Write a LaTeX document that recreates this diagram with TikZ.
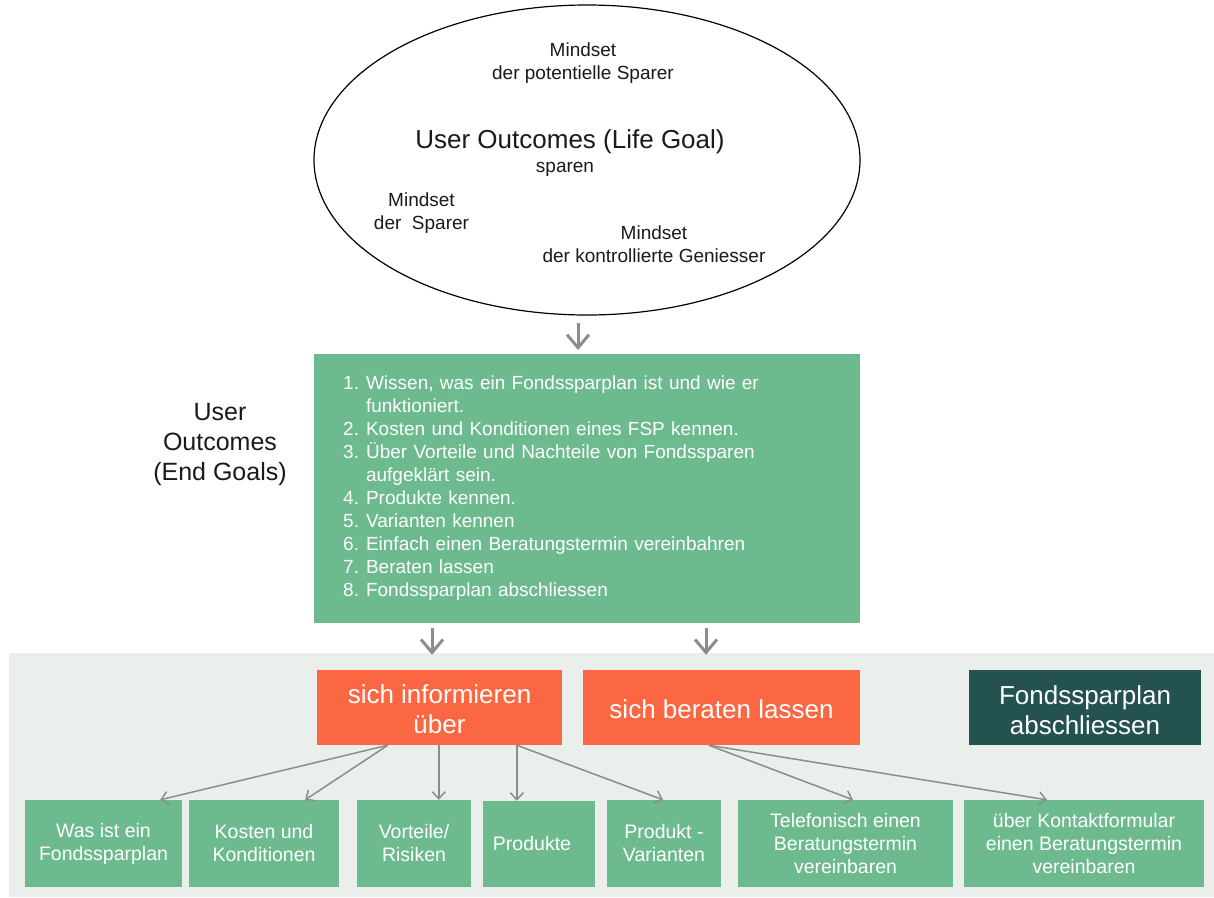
\documentclass[tikz,border=0pt]{standalone}
\usepackage{fontspec}
\setmainfont{Liberation Sans}
\usetikzlibrary{arrows.meta,calc,shapes.geometric}
\definecolor{leaf}{HTML}{6DBA8F}
\definecolor{coral}{HTML}{FB6742}
\definecolor{pine}{HTML}{245251}
\definecolor{mist}{HTML}{EBEFEC}
\definecolor{link}{HTML}{8C8C8C}
\definecolor{ink}{HTML}{1A1A1A}

\begin{document}
\begin{tikzpicture}[x=1pt,y=-1pt,
  tile/.style={fill=leaf, text=white, inner sep=0pt, align=center,
    minimum height=87pt, font=\fontsize{19.5}{23}\selectfont},
  action/.style={inner sep=0pt, text=white, align=center,
    minimum height=75pt, font=\fontsize{26}{30}\selectfont},
  note/.style={text=ink, inner sep=0pt, align=center, font=\fontsize{19}{23}\selectfont},
  flow/.style={draw=link, line width=3pt, -{Straight Barb[length=13pt,width=22pt]}},
  branch/.style={draw=link, line width=1.5pt, -{Straight Barb[length=7pt,width=13pt]}}]

% canvas
\useasboundingbox (0,0) rectangle (1214,897);
\fill[white] (0,0) rectangle (1214,897);
\fill[mist] (9,653) rectangle (1214,897);

% life goal
\node[ellipse, draw=black, line width=1.2pt, minimum width=546pt, minimum height=310pt, inner sep=0pt]
  (life) at (587,160) {};
\node[note] (m1) at (583,63.5) {Mindset\\der potentielle Sparer};
\node[note, font=\fontsize{26}{30}\selectfont] (lg) at (570,142) {User Outcomes (Life Goal)};
\node[note] (sp) at (565,169.5) {sparen};
\node[note] (m2) at (421.5,213.5) {Mindset\\der\ \ Sparer};
\node[note] (m3) at (654,244) {Mindset\\der kontrollierte Geniesser};

% end goals
\node[fill=leaf, text=white, anchor=north west, minimum width=546pt, minimum height=269pt,
  text width=488pt, inner xsep=29pt, inner ysep=0pt, align=left, font=\fontsize{19}{23}\selectfont]
  (goals) at (314,354) {%
  \begin{tabular}{@{}l@{\hspace{7pt}}l@{}}
  1. & Wissen, was ein Fondssparplan ist und wie er\\
     & funktioniert.\\
  2. & Kosten und Konditionen eines FSP kennen.\\
  3. & Über Vorteile und Nachteile von Fondssparen\\
     & aufgeklärt sein.\\
  4. & Produkte kennen.\\
  5. & Varianten kennen\\
  6. & Einfach einen Beratungstermin vereinbahren\\
  7. & Beraten lassen\\
  8. & Fondssparplan abschliessen
  \end{tabular}};
\node[note, font=\fontsize{25}{30}\selectfont] (eg) at (220,444) {User\\Outcomes\\(End Goals)};

% actions (text lowered slightly inside the boxes)
\node[action, fill=coral, minimum width=245pt] (inf) at (439.5,707.5)
  {\raisebox{-10.75pt}[0pt][0pt]{\begin{tabular}{@{}c@{}}sich informieren\\über\end{tabular}}};
\node[action, fill=coral, minimum width=277pt] (ber) at (721.5,707.5)
  {\raisebox{-11pt}[0pt][0pt]{sich beraten lassen}};
\node[action, fill=pine, minimum width=232pt] (abs) at (1085,707.5)
  {\raisebox{-12.25pt}[0pt][0pt]{\begin{tabular}{@{}c@{}}Fondssparplan\\abschliessen\end{tabular}}};

% topics
\node[tile, minimum width=157pt] (t1) at (103.5,843.5) {Was ist ein\\Fondssparplan};
\node[tile, minimum width=150pt] (t2) at (264,843.5) {Kosten und\\Konditionen};
\node[tile, minimum width=114pt] (t3) at (414,843.5) {Vorteile/\\Risiken};
\node[tile, minimum width=112pt, minimum height=86pt] (t4) at (539,844) {\hspace*{-14pt}Produkte};
\node[tile, minimum width=114pt] (t5) at (664,843.5) {Produkt -\\Varianten};
\node[tile, minimum width=215pt] (t6) at (845.5,843.5) {Telefonisch einen\\Beratungstermin\\vereinbaren};
\node[tile, minimum width=240pt] (t7) at (1084,843.5) {über Kontaktformular\\einen Beratungstermin\\vereinbaren};

% main flow
\coordinate (lifeout) at ($(life.south)+(-9,7)$);
\draw[flow] (lifeout) -- ($(lifeout |- goals.north)+(0,-4)$);
\coordinate (g1) at ($(goals.south west)+(118,5)$);
\coordinate (g2) at ($(goals.south west)+(392,5)$);
\draw[flow] (g1) -- ($(g1 |- inf.north)+(0,-15)$);
\draw[flow] (g2) -- ($(g2 |- ber.north)+(0,-15)$);

% branches to topics
\coordinate (i1) at ($(inf.south west)+(71,0)$);
\coordinate (i2) at ($(inf.south west)+(122,0)$);
\coordinate (i3) at ($(inf.south west)+(200,0)$);
\coordinate (b1) at ($(ber.south west)+(126,0)$);
\draw[branch] (i1) -- ($(t1.north east)+(-22,0)$);
\draw[branch] (i1) -- ($(t2.north east)+(-34,0)$);
\draw[branch] (i2) -- (i2 |- t3.north);
\draw[branch] (i3) -- (i3 |- t4.north);
\draw[branch] (i3) -- ($(t5.north)+(-1,0)$);
\draw[branch] (b1) -- ($(t6.north)+(7.5,0)$);
\draw[branch] (b1) -- ($(t7.north)+(-37,0)$);
\end{tikzpicture}
\end{document}
